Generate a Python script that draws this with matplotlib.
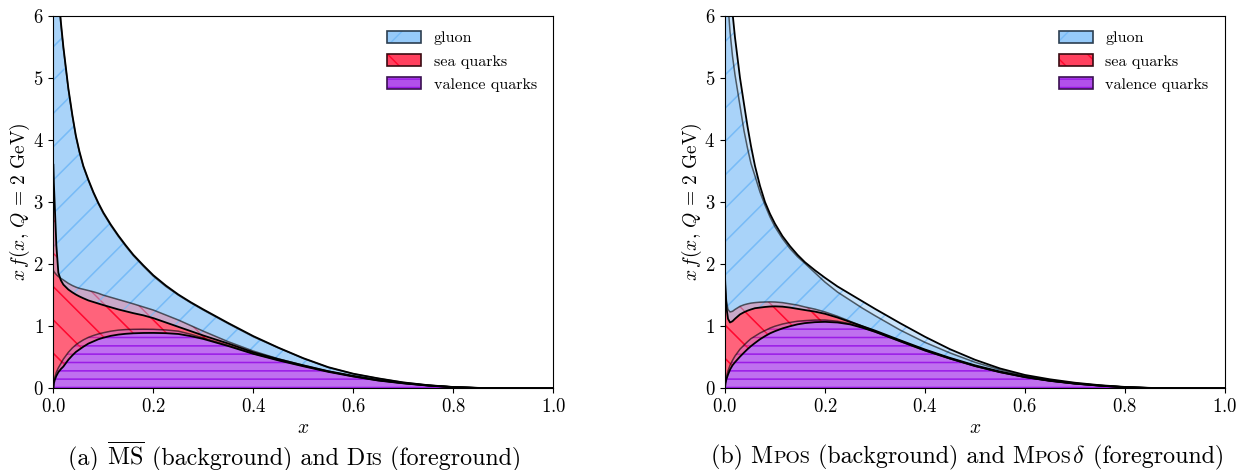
import numpy as np
import matplotlib
matplotlib.use("Agg")
import matplotlib.pyplot as plt
from matplotlib.patches import Patch
from matplotlib.legend_handler import HandlerTuple
from matplotlib.offsetbox import TextArea, HPacker, AnchoredOffsetbox
from matplotlib.colors import to_rgba

plt.rcParams['font.family'] = 'serif'
plt.rcParams['font.serif'] = ['cmr10']
plt.rcParams['mathtext.fontset'] = 'cm'
plt.rcParams['axes.formatter.use_mathtext'] = True
plt.rcParams['hatch.linewidth'] = 1.0

# momentum fraction grid, finer near x = 0 where the PDFs blow up
x = np.array([0, 0.001, 0.003, 0.006, 0.01, 0.015, 0.02, 0.03, 0.038, 0.045,
              0.052, 0.06, 0.07, 0.08, 0.09, 0.1, 0.115, 0.13, 0.145, 0.16,
              0.18, 0.2, 0.225, 0.25, 0.275, 0.3, 0.35, 0.4, 0.45, 0.5,
              0.55, 0.6, 0.65, 0.7, 0.75, 0.8, 0.85, 0.9, 1.0])

# (a) MSbar scheme (background)
msbar_valence = [0, 0.10, 0.18, 0.26, 0.33, 0.40, 0.47, 0.58, 0.65, 0.70,
                 0.74, 0.78, 0.82, 0.85, 0.875, 0.895, 0.92, 0.937, 0.946, 0.95,
                 0.952, 0.95, 0.94, 0.92, 0.87, 0.81, 0.69, 0.56, 0.455, 0.36,
                 0.27, 0.19, 0.125, 0.08, 0.043, 0.018, 0.005, 0.001, 0]
msbar_sea = [1.9, 1.78, 1.68, 1.57, 1.47, 1.37, 1.275, 1.11, 1.005, 0.93,
             0.87, 0.815, 0.755, 0.705, 0.655, 0.605, 0.545, 0.493, 0.449, 0.41,
             0.358, 0.31, 0.24, 0.18, 0.14, 0.11, 0.06, 0.04, 0.02, 0.01,
             0.005, 0.007, 0.005, 0.003, 0.002, 0.002, 0.001, 0, 0]
msbar_gluon = [8.6, 7.42, 6.04, 5.27, 4.55, 4.09, 3.725, 3.12, 2.725, 2.42,
               2.19, 1.97, 1.77, 1.59, 1.44, 1.315, 1.155, 1.015, 0.89, 0.775,
               0.655, 0.545, 0.46, 0.40, 0.365, 0.34, 0.29, 0.23, 0.175, 0.11,
               0.06, 0.035, 0.028, 0.011, 0.005, 0.001, 0.001, 0, 0]

# (a) DIS scheme (foreground)
dis_valence = [0, 0.08, 0.14, 0.20, 0.26, 0.31, 0.35, 0.46, 0.53, 0.585,
               0.625, 0.67, 0.72, 0.755, 0.79, 0.815, 0.845, 0.865, 0.878, 0.886,
               0.891, 0.892, 0.888, 0.875, 0.84, 0.795, 0.68, 0.555, 0.45, 0.355,
               0.265, 0.19, 0.125, 0.08, 0.043, 0.018, 0.005, 0.001, 0]
dis_sea = [3.6, 3.22, 2.76, 2.10, 1.60, 1.43, 1.32, 1.13, 1.015, 0.925,
           0.855, 0.78, 0.695, 0.635, 0.575, 0.525, 0.46, 0.405, 0.362, 0.324,
           0.284, 0.238, 0.172, 0.115, 0.08, 0.055, 0.04, 0.025, 0.02, 0.015,
           0.01, 0.01, 0.01, 0.005, 0.003, 0.002, 0.001, 0, 0]
dis_gluon = [7.4, 6.2, 5.1, 4.9, 4.54, 4.16, 3.83, 3.24, 2.855, 2.56,
             2.34, 2.13, 1.945, 1.77, 1.62, 1.49, 1.33, 1.19, 1.06, 0.94,
             0.805, 0.69, 0.595, 0.52, 0.465, 0.42, 0.33, 0.26, 0.185, 0.115,
             0.065, 0.035, 0.025, 0.01, 0.004, 0.001, 0.001, 0, 0]

# (b) MPOS scheme (background)
mpos_valence = [0, 0.10, 0.19, 0.28, 0.37, 0.45, 0.52, 0.63, 0.695, 0.75,
                0.80, 0.84, 0.89, 0.93, 0.97, 1.00, 1.035, 1.06, 1.08, 1.09,
                1.10, 1.10, 1.08, 1.04, 0.98, 0.91, 0.755, 0.605, 0.475, 0.355,
                0.258, 0.178, 0.118, 0.073, 0.041, 0.017, 0.005, 0.001, 0]
mpos_sea = [1.75, 1.50, 1.21, 0.99, 0.86, 0.79, 0.75, 0.69, 0.65, 0.61,
            0.572, 0.54, 0.497, 0.46, 0.422, 0.39, 0.345, 0.30, 0.26, 0.22,
            0.175, 0.13, 0.08, 0.04, 0.02, 0.01, 0.01, 0.01, 0.005, 0.005,
            0.004, 0.003, 0.002, 0.002, 0.001, 0.001, 0.0005, 0, 0]
mpos_gluon = [12.25, 8.4, 6.1, 4.93, 4.52, 4.11, 3.78, 3.23, 2.805, 2.51,
              2.248, 2.04, 1.773, 1.56, 1.368, 1.21, 1.03, 0.89, 0.78, 0.70,
              0.585, 0.48, 0.39, 0.34, 0.29, 0.25, 0.175, 0.125, 0.09, 0.06,
              0.038, 0.019, 0.015, 0.01, 0.005, 0.002, 0.0005, 0, 0]

# (b) MPOS-delta scheme (foreground)
mposd_valence = [0, 0.08, 0.15, 0.22, 0.30, 0.37, 0.42, 0.51, 0.575, 0.63,
                 0.68, 0.73, 0.79, 0.84, 0.885, 0.92, 0.965, 1.00, 1.03, 1.05,
                 1.065, 1.07, 1.06, 1.03, 0.975, 0.91, 0.76, 0.61, 0.48, 0.36,
                 0.26, 0.18, 0.12, 0.075, 0.042, 0.018, 0.005, 0.001, 0]
mposd_sea = [1.8, 1.52, 1.15, 0.90, 0.76, 0.71, 0.70, 0.68, 0.65, 0.62,
             0.59, 0.56, 0.51, 0.47, 0.432, 0.40, 0.35, 0.30, 0.25, 0.21,
             0.17, 0.13, 0.08, 0.04, 0.025, 0.02, 0.015, 0.015, 0.01, 0.01,
             0.01, 0.007, 0.005, 0.003, 0.002, 0.001, 0.0005, 0, 0]
mposd_gluon = [13.2, 10.4, 7.7, 6.68, 5.74, 4.97, 4.53, 3.81, 3.355, 2.97,
               2.63, 2.29, 1.96, 1.69, 1.493, 1.33, 1.135, 0.99, 0.87, 0.77,
               0.665, 0.58, 0.50, 0.45, 0.40, 0.35, 0.275, 0.205, 0.14, 0.09,
               0.05, 0.028, 0.02, 0.012, 0.006, 0.003, 0.0015, 0, 0]

FILL = {'valence': '#9815e6', 'sea': '#ff0028', 'gluon': '#73b9f7'}
HATCH = {'valence': '--', 'sea': '\\', 'gluon': '/'}
EDGE = {'gluon': '#2c3e50', 'sea': '#3a0a12', 'valence': '#3a1050'}


def draw_pdfs(ax, valence, sea, gluon, foreground):
    # stack valence -> sea -> gluon
    lower = np.zeros_like(x)
    for name, vals in (('valence', valence), ('sea', sea), ('gluon', gluon)):
        upper = lower + np.asarray(vals)
        ax.fill_between(x, lower, upper, facecolor=FILL[name], alpha=0.375, lw=0)
        ax.fill_between(x, lower, upper, facecolor='none',
                        edgecolor=to_rgba(FILL[name], 0.7), hatch=HATCH[name], lw=0)
        if foreground:
            ax.plot(x, upper, color='black', lw=1.3)
        else:
            ax.plot(x, upper, color='black', lw=1.1, alpha=0.6)
        lower = upper


def add_caption(fig, parts, xc):
    boxes = [TextArea(t, textprops=dict(fontsize=s)) for t, s in parts]
    pack = HPacker(children=boxes, align='baseline', pad=0, sep=0)
    box = AnchoredOffsetbox(loc='center', child=pack, frameon=False, pad=0,
                            borderpad=0, bbox_to_anchor=(xc, 0.027),
                            bbox_transform=fig.transFigure)
    fig.add_artist(box)


fig = plt.figure(figsize=(12.41, 4.70), dpi=100)
ax_a = fig.add_axes([0.0430, 0.1738, 0.4029, 0.7928])
ax_b = fig.add_axes([0.5842, 0.1738, 0.4029, 0.7928])

draw_pdfs(ax_a, msbar_valence, msbar_sea, msbar_gluon, foreground=False)
draw_pdfs(ax_a, dis_valence, dis_sea, dis_gluon, foreground=True)
draw_pdfs(ax_b, mpos_valence, mpos_sea, mpos_gluon, foreground=False)
draw_pdfs(ax_b, mposd_valence, mposd_sea, mposd_gluon, foreground=True)

handles = []
for name in ('gluon', 'sea', 'valence'):
    face = Patch(facecolor=to_rgba(FILL[name], 0.75), edgecolor=to_rgba(FILL[name], 0.9),
                 hatch=HATCH[name], lw=0)
    border = Patch(facecolor='none', edgecolor=EDGE[name], lw=1.2)
    handles.append((face, border))
labels = ['gluon', 'sea quarks', 'valence quarks']

for ax in (ax_a, ax_b):
    ax.set_xlim(0, 1)
    ax.set_ylim(0, 6)
    ax.set_xticks([0.0, 0.2, 0.4, 0.6, 0.8, 1.0])
    ax.set_yticks(range(7))
    ax.tick_params(direction='out', labelsize=13.5, length=3.5)
    ax.set_xlabel(r'$x$', fontsize=14, labelpad=2)
    ax.set_ylabel(r'$x\,f(x,\,Q\,=\,2\ \mathrm{GeV})$', fontsize=14, labelpad=0.5)
    ax.legend(handles, labels, handler_map={tuple: HandlerTuple(ndivide=1, pad=0)},
              loc='upper right', bbox_to_anchor=(0.967, 0.959), frameon=False,
              fontsize=11.6, handlelength=2.1, handleheight=0.75,
              handletextpad=0.78, labelspacing=0.54, borderpad=0, borderaxespad=0)

add_caption(fig, [('(a) ', 17.3), (r'$\overline{\mathrm{MS}}$', 17.3),
                  (' (background) and D', 17.3), ('IS', 13.2), (' (foreground)', 17.3)],
            0.2375)
add_caption(fig, [('(b) M', 17.3), ('POS', 13.2), (' (background) and M', 17.3),
                  ('POS', 13.2), (r'$\delta$', 17.3), (' (foreground)', 17.3)], 0.7795)

fig.savefig('out.png', dpi=100)
